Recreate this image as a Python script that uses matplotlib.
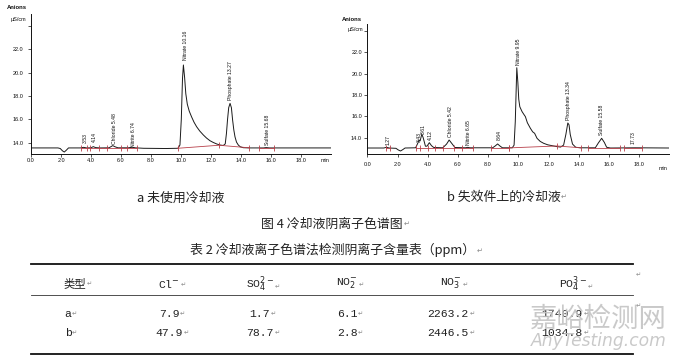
import matplotlib
matplotlib.use("Agg")
import matplotlib.pyplot as plt

# ---------------- data ----------------
# chromatogram a (unused coolant): (time min, conductivity uS/cm)
trace_a = [(0.0, 13.55), (1.8, 13.55), (1.95, 13.5), (2.1, 13.3), (2.22, 13.2), (2.35, 13.35),
           (2.5, 13.55), (3.3, 13.55), (3.5, 13.6), (3.6, 13.58), (3.7, 13.55), (4.0, 13.56),
           (4.15, 13.66), (4.3, 13.58), (4.6, 13.55), (5.2, 13.56), (5.45, 13.75), (5.6, 13.65),
           (5.8, 13.56), (6.5, 13.56), (6.74, 13.62), (6.95, 13.56), (7.5, 13.52), (9.0, 13.5),
           (9.8, 13.52), (9.93, 13.8), (10.02, 16.0), (10.1, 19.5), (10.16, 20.66), (10.24, 19.6),
           (10.32, 18.2), (10.42, 17.3), (10.55, 16.7), (10.71, 16.2), (10.87, 15.75), (11.04, 15.37),
           (11.25, 15.0), (11.49, 14.66), (11.7, 14.4), (11.93, 14.17), (12.15, 14.02), (12.38, 13.89),
           (12.6, 13.8), (12.82, 13.76), (12.95, 13.9), (13.03, 14.8), (13.1, 15.95), (13.18, 17.0),
           (13.27, 17.37), (13.36, 17.0), (13.44, 15.95), (13.52, 15.1), (13.6, 14.5), (13.7, 14.05),
           (13.82, 13.8), (13.95, 13.65), (14.15, 13.57), (14.6, 13.55), (15.5, 13.55), (15.68, 13.58),
           (15.9, 13.55), (20.0, 13.55)]
# chromatogram b (coolant on failed part)
trace_b = [(0.0, 13.03), (1.1, 13.03), (1.27, 13.1), (1.45, 13.03), (1.9, 13.0), (2.05, 12.85),
           (2.2, 12.75), (2.35, 12.88), (2.5, 13.03), (3.2, 13.05), (3.35, 13.5), (3.43, 13.78),
           (3.5, 13.7), (3.61, 14.34), (3.7, 14.0), (3.85, 13.2), (3.95, 13.2), (4.11, 13.53),
           (4.25, 13.25), (4.4, 13.08), (5.0, 13.05), (5.25, 13.4), (5.42, 13.78), (5.6, 13.45),
           (5.8, 13.08), (6.5, 13.05), (6.65, 13.09), (6.8, 13.05), (8.3, 13.05), (8.45, 13.2),
           (8.63, 13.41), (8.8, 13.2), (8.95, 13.05), (9.6, 13.05), (9.72, 13.3), (9.8, 15.5),
           (9.9, 20.56), (9.97, 19.2), (10.03, 17.6), (10.1, 16.9), (10.25, 16.44), (10.36, 16.2),
           (10.47, 15.97), (10.6, 15.4), (10.8, 14.88), (10.95, 14.55), (11.08, 14.41), (11.24, 13.94),
           (11.45, 13.65), (11.68, 13.47), (11.95, 13.33), (12.23, 13.25), (12.56, 13.16), (12.8, 13.12),
           (13.0, 13.3), (13.15, 14.3), (13.28, 15.38), (13.36, 15.2), (13.44, 14.3), (13.59, 13.4),
           (13.8, 13.1), (14.1, 13.05), (15.1, 13.05), (15.3, 13.5), (15.52, 13.94), (15.7, 13.55),
           (15.85, 13.1), (16.1, 13.03), (17.73, 13.05), (20.0, 13.03)]

# integration baselines (red) with start/end marks
base_a = [[(3.33, 13.55), (3.76, 13.55), (3.93, 13.55), (4.56, 13.55), (5.09, 13.55), (5.98, 13.55),
           (6.4, 13.55), (7.04, 13.55)],
          [(9.78, 13.52), (12.53, 13.78), (14.56, 13.56)],
          [(15.2, 13.55), (16.2, 13.55)]]
base_b = [[(1.21, 13.04), (1.48, 13.04)],
          [(3.23, 13.04), (3.52, 13.04), (4.0, 13.04), (4.48, 13.04), (4.99, 13.04), (5.75, 13.04),
           (6.3, 13.04), (7.03, 13.04)],
          [(8.17, 13.04), (9.38, 13.04)],
          [(9.38, 13.04), (12.56, 13.22), (14.14, 13.05)],
          [(14.64, 13.04), (16.73, 13.04)],
          [(17.01, 13.04), (18.22, 13.04)]]

# peak labels
labels_a = ["3.53", "4.14", "Chloride 5.48", "Nitrite 6.74", "Nitrate 10.16", "Phosphate 13.27", "Sulfate 15.68"]
label_t_a = [3.62, 4.22, 5.56, 6.82, 10.29, 13.33, 15.78]
label_y_a = [13.94, 14.09, 13.89, 13.66, 21.09, 17.66, 13.8]
labels_b = ["1.27", "3.43", "3.61", "4.12", "Chloride 5.42", "Nitrite 6.65", "8.64", "Nitrate 9.95",
            "Phosphate 13.34", "Sulfate 15.58", "17.73"]
label_t_b = [1.37, 3.45, 3.71, 4.15, 5.49, 6.7, 8.72, 10.04, 13.33, 15.52, 17.6]
label_y_b = [13.31, 13.62, 14.3, 13.78, 14.1, 13.31, 13.78, 20.81, 15.66, 14.25, 13.4]

x_ticks = [0, 2, 4, 6, 8, 10, 12, 14, 16, 18]
y_ticks = [14, 16, 18, 20, 22, 24]

# table
table_header = ["类型", "Cl$^{-}$", "SO$_4^{2-}$", "NO$_2^{-}$", "NO$_3^{-}$", "PO$_4^{3-}$"]
row_labels = ["a", "b"]
cl = [7.9, 47.9]
so4 = [1.7, 78.7]
no2 = [6.1, 2.8]
no3 = [2263.2, 2446.5]
po4 = [1740.9, 1034.8]

caption_a = "a 未使用冷却液"
caption_b = "b 失效件上的冷却液"
fig_title = "图 4 冷却液阴离子色谱图"
table_title = "表 2 冷却液离子色谱法检测阴离子含量表（ppm）"

# ---------------- figure ----------------
W, H = 680, 361
fig = plt.figure(figsize=(6.8, 3.61), dpi=100)
bg = fig.add_axes([0, 0, 1, 1])
bg.set_xlim(0, W)
bg.set_ylim(H, 0)
bg.axis("off")

RED = "#b8404a"
TRACE = "#1a1a1a"
SANS = ["Liberation Sans", "DejaVu Sans"]
CJK = ["Noto Sans CJK SC", "DejaVu Sans"]
TAB = ["Liberation Mono", "Noto Sans CJK SC", "DejaVu Sans"]
TICK_FS = 4.0


def chromatogram(x0, x1, ytop, ybot, ylim, trace, bases, labels, lt, ly, ypad, xpad):
    ax = fig.add_axes([x0 / W, (H - ybot) / H, (x1 - x0) / W, (ybot - ytop) / H])
    ax.set_facecolor("none")
    t = [p[0] for p in trace]
    v = [p[1] for p in trace]
    ax.plot(t, v, color=TRACE, lw=0.7)
    for seg in bases:
        ax.plot([p[0] for p in seg], [p[1] for p in seg], color=RED, lw=0.6,
                marker="|", ms=4.8, mew=0.6)
    for name, tx, ty in zip(labels, lt, ly):
        ax.text(tx, ty, name, rotation=90, ha="center", va="bottom", fontsize=3.7,
                family=SANS, color="#111")
    ax.set_xlim(0, 20)
    ax.set_ylim(*ylim)
    for s in ("top", "right"):
        ax.spines[s].set_visible(False)
    for s in ("left", "bottom"):
        ax.spines[s].set_linewidth(0.7)
        ax.spines[s].set_color("#111")
    ax.set_xticks(x_ticks)
    ax.set_xticklabels([f"{x:.1f}" for x in x_ticks], family=SANS)
    ax.set_yticks(y_ticks)
    ax.set_yticklabels([f"{y:.1f}" for y in y_ticks[:-1]] + [""], family=SANS)
    ax.tick_params(axis="both", direction="out", length=2, width=0.5, labelsize=TICK_FS, colors="#111")
    ax.tick_params(axis="y", pad=ypad)
    ax.tick_params(axis="x", pad=xpad)
    return ax


chromatogram(31, 331, 14, 154, (13.03, 25.03), trace_a, base_a, labels_a, label_t_a, label_y_a, 3.6, 0.6)
chromatogram(367.3, 669.3, 24, 154.3, (12.44, 24.66), trace_b, base_b, labels_b, label_t_b, label_y_b, 1.8, 3.6)

# axis annotations
bg.text(6.7, 7.3, "Anions", fontsize=4.2, weight="bold", family=SANS, ha="left", va="center", color="#111")
bg.text(26.7, 20, "µS/cm", fontsize=4.0, family=SANS, ha="right", va="center", color="#111")
bg.text(325, 161, "min", fontsize=TICK_FS, family=SANS, ha="center", va="center", color="#111")
bg.text(341.7, 19.3, "Anions", fontsize=4.2, weight="bold", family=SANS, ha="left", va="center", color="#111")
bg.text(363, 30, "µS/cm", fontsize=4.0, family=SANS, ha="right", va="center", color="#111")
bg.text(663, 168, "min", fontsize=TICK_FS, family=SANS, ha="center", va="center", color="#111")


def para_mark(txt, size=5):
    bg.annotate("↵", xy=(1, 0.25), xycoords=txt, xytext=(0.5, 0), textcoords="offset points",
                fontsize=size, family=["DejaVu Sans"], color="#888", ha="left", va="bottom")


# captions
bg.text(181, 198, caption_a, fontsize=9.3, family=CJK, ha="center", va="center", color="#222")
t = bg.text(503.5, 197, caption_b, fontsize=9.3, family=CJK, ha="center", va="center", color="#222")
para_mark(t)
t = bg.text(332, 224, fig_title, fontsize=9.3, family=CJK, ha="center", va="center", color="#222")
para_mark(t)
t = bg.text(333, 250, table_title, fontsize=9.3, family=CJK, ha="center", va="center", color="#222")
para_mark(t)

# table
bg.plot([31, 633], [264, 264], color="#111", lw=1.3)
bg.plot([31, 633], [295, 295], color="#333", lw=0.6)
bg.plot([31, 633], [353.5, 353.5], color="#111", lw=1.3)

head_x = [75, 169, 260, 347, 451, 573]
val_x = [68, 169, 260, 347, 448, 562]
row_y = [314, 333]
for hx, name in zip(head_x, table_header):
    t = bg.text(hx, 284, name, fontsize=8.2, family=TAB, ha="center", va="center", color="#222")
    para_mark(t, 4.5)
columns = [row_labels, cl, so4, no2, no3, po4]
for cx, col in zip(val_x, columns):
    for ry, val in zip(row_y, col):
        s = val if isinstance(val, str) else f"{val:.1f}"
        t = bg.text(cx, ry, s, fontsize=8.2, family=TAB, ha="center", va="center", color="#222")
        para_mark(t, 4.5)
bg.text(638, 275, "↵", fontsize=4.5, family=["DejaVu Sans"], color="#888", ha="center", va="center")
bg.text(638, 306, "↵", fontsize=4.5, family=["DejaVu Sans"], color="#888", ha="center", va="center")

# watermark
bg.text(598, 319, "嘉峪检测网", fontsize=19.7, family=CJK, ha="center", va="center", color="#c4c4c4", alpha=0.9)
bg.text(599, 341, "AnyTesting.com", fontsize=12.3, family=["DejaVu Sans"], style="italic",
        ha="center", va="center", color="#c4c4c4", alpha=0.9)

fig.savefig("out.png", dpi=100)
